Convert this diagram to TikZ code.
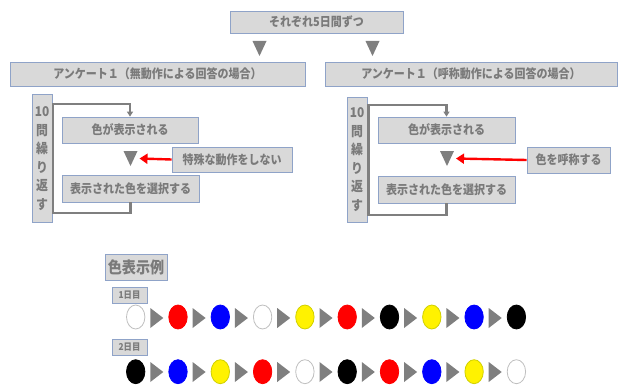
\documentclass[tikz,border=0pt]{standalone}
\usepackage{fontspec}
\newfontfamily\jp[FakeStretch=0.88]{Noto Sans CJK JP}
\usetikzlibrary{arrows.meta,calc}
\definecolor{boxfill}{HTML}{D9D9D9}
\definecolor{boxedge}{HTML}{8FA3C8}
\definecolor{txt}{HTML}{7A7A7A}
\definecolor{ln}{HTML}{7F7F7F}
\definecolor{wedge}{HTML}{BFBFBF}
\definecolor{yedge}{HTML}{D0D000}
\begin{document}
\begin{tikzpicture}[x=1pt,y=-1pt,
  box/.style={draw=boxedge, fill=boxfill, line width=0.8pt, text=txt, inner sep=0pt,
              font=\jp\bfseries\fontsize{12.5}{14}\selectfont},
  vbox/.style={box, align=center, font=\jp\bfseries\fontsize{13.5}{18.6}\selectfont},
  loopln/.style={draw=ln, line width=2.5pt},
  looparr/.style={loopln, -{Triangle[length=5pt,width=6pt]}},
  redarr/.style={draw=red, line width=2.4pt, -{Triangle[length=8pt,width=10pt]}},
  dtri/.pic={\fill[ln] (-7,-7.5) -- (7,-7.5) -- (0,7.5) -- cycle;},
  rtri/.pic={\fill[ln] (-6.5,-10) -- (6.5,0) -- (-6.5,10) -- cycle;}
]
\useasboundingbox (0,0) rectangle (620,385);

% top
\node[box, minimum width=173, minimum height=22] (top) at (316.5,22) {それぞれ5日間ずつ};
\coordinate (t1) at (259.5,48.5);
\coordinate (t2) at (372.5,48.5);
\pic at (t1) {dtri};
\pic at (t2) {dtri};
\node[box, minimum width=295, minimum height=24] (bandL) at (157.5,74) {アンケート１（無動作による回答の場合）};
\node[box, minimum width=292, minimum height=24] (bandR) at (471,74) {アンケート１（呼称動作による回答の場合）};

% left loop
\node[vbox, minimum width=20, minimum height=128] (repL) at (42,158.5) {10\\問\\繰\\り\\返\\す};
\node[box, minimum width=136, minimum height=26] (showL) at (130,130) {色が表示される};
\coordinate (triL) at (130.5,158.5);
\pic at (triL) {dtri};
\node[box, minimum width=120, minimum height=25] (specL) at (232,159.5) {特殊な動作をしない};
\node[box, minimum width=137, minimum height=27] (selL) at (130.5,188.5) {表示された色を選択する};
\coordinate (cL1) at (53,213);
\coordinate (cL2) at (53,104);
\draw[looparr] (selL.south) |- (cL1) -- (cL2) -| (showL.north);
\draw[redarr] (specL.west) -- ($(triL)+(9,0)$);

% right loop
\node[vbox, minimum width=20, minimum height=125] (repR) at (357,159.5) {10\\問\\繰\\り\\返\\す};
\node[box, minimum width=137, minimum height=26] (showR) at (446.5,130) {色が表示される};
\coordinate (triR) at (447,158.5);
\pic at (triR) {dtri};
\node[box, minimum width=83, minimum height=26] (specR) at (568.5,160) {色を呼称する};
\node[box, minimum width=137, minimum height=27] (selR) at (446.5,189.5) {表示された色を選択する};
\coordinate (cR1) at (368.5,215);
\coordinate (cR2) at (368.5,105);
\draw[looparr] (selR.south) |- (cR1) -- (cR2) -| (showR.north);
\draw[redarr] (specR.west) -- ($(triR)+(9,0)$);

% colour examples
\node[box, minimum width=62, minimum height=26, font=\jp\bfseries\fontsize{16}{18}\selectfont] (ex) at (136,267) {色表示例};
\node[box, minimum width=35, minimum height=16, font=\jp\bfseries\fontsize{9.5}{11}\selectfont] (d1) at (129.5,295) {1日目};
\node[box, minimum width=35, minimum height=16, font=\jp\bfseries\fontsize{9.5}{11}\selectfont] (d2) at (129.5,347) {2日目};

\foreach \f/\o [count=\i from 0] in {white/wedge, red/red, blue/blue, white/wedge, yellow/yedge, red/red, black/black, yellow/yedge, blue/blue, black/black}
  \filldraw[fill=\f, draw=\o, line width=0.8pt] (135.7+42.3*\i,317) ellipse [x radius=9.2, y radius=12];
\foreach \i in {0,...,8}
  \pic at (156.8+42.3*\i,318) {rtri};

\foreach \f/\o [count=\i from 0] in {black/black, blue/blue, yellow/yedge, red/red, white/wedge, black/black, red/red, blue/blue, yellow/yedge, white/wedge}
  \filldraw[fill=\f, draw=\o, line width=0.8pt] (135.7+42.3*\i,371.7) ellipse [x radius=9.2, y radius=12];
\foreach \i in {0,...,8}
  \pic at (156.8+42.3*\i,372) {rtri};
\end{tikzpicture}
\end{document}
